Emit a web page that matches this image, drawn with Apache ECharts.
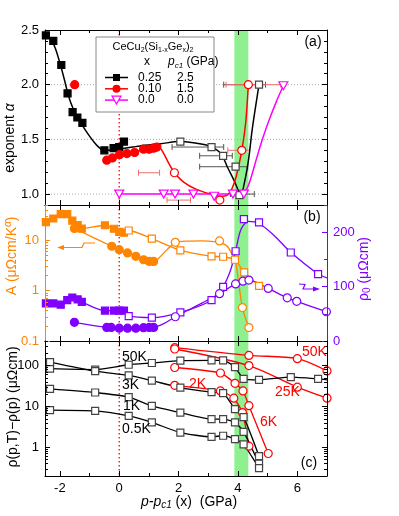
<!DOCTYPE html>
<html>
<head>
<meta charset="utf-8">
<script src="https://cdn.jsdelivr.net/npm/echarts@6/dist/echarts.min.js"></script>
<style>
  html, body { margin: 0; padding: 0; background: #fff; }
  #main { width: 399px; height: 516px; }
</style>
</head>
<body>
<div id="main"></div>
<script>
// ---------- data ----------
// x axis (p - pc1, GPa)
var xMajor = [-2, 0, 2, 4, 6];
var xMinor = [-1, 1, 3, 5];

// panel (a): exponent alpha
var aMajor = [1.0, 1.5, 2.0, 2.5];
var aMinor = [1.1, 1.2, 1.3, 1.4, 1.6, 1.7, 1.8, 1.9, 2.1, 2.2, 2.3, 2.4];
var aGuides = [1.0, 1.5, 2.0];
var aBlkFilledX = [-2.47, -2.22, -1.95, -1.74, -1.57, -1.41, -1.24, -0.50, -0.19, 0.00, 0.16];
var aBlkFilledY = [2.45, 2.40, 2.18, 1.92, 1.75, 1.70, 1.65, 1.40, 1.42, 1.43, 1.48];
var aBlkOpenX = [2.06, 3.11, 3.50, 3.92, 4.05, 4.71];
var aBlkOpenY = [1.48, 1.43, 1.35, 1.25, 0.99, 2.00];
var aBlkErrY = [1.43, 1.35, 1.25, 1.00, 2.00];
var aBlkErrLo = [1.78, 2.71, 2.71, 3.75, 3.52];
var aBlkErrHi = [3.52, 3.81, 4.33, 4.55, 4.93];
var aRedFilledX = [-1.50, -0.42, -0.23, 0.01, 0.26, 0.52, 0.82, 1.01, 1.16, 1.27];
var aRedFilledY = [2.00, 1.31, 1.33, 1.36, 1.37, 1.38, 1.41, 1.41, 1.42, 1.43];
var aRedOpenX = [1.86, 3.39, 4.13, 4.35];
var aRedOpenY = [1.195, 0.945, 1.40, 2.00];
var aRedErrY = [1.195, 0.945, 1.40, 2.00];
var aRedErrLo = [0.65, 1.61, 3.66, 3.60];
var aRedErrHi = [1.36, 2.40, 4.39, 5.44];
var aMagX = [0.00, 1.50, 1.88, 2.50, 3.20, 3.83, 4.20, 5.53];
var aMagY = [1.00, 1.00, 1.00, 1.00, 0.98, 1.00, 1.00, 1.99];
var aBlkFitX = [-2.50, -2.30, -2.15, -2.00, -1.85, -1.70, -1.55, -1.40, -1.20, -1.00, -0.80, -0.60, -0.40, 0.00, 0.70, 1.40, 2.00, 2.50, 2.90, 3.20, 3.45, 3.64, 3.86, 4.00, 4.09, 4.26, 4.37, 4.48, 4.71];
var aBlkFitY = [2.46, 2.42, 2.33, 2.20, 2.05, 1.89, 1.78, 1.70, 1.61, 1.53, 1.46, 1.41, 1.40, 1.41, 1.44, 1.46, 1.48, 1.47, 1.45, 1.42, 1.36, 1.25, 1.13, 1.04, 0.99, 1.16, 1.34, 1.59, 2.00];
var aRedFitX = [-0.45, -0.20, 0.30, 0.80, 1.20, 1.33, 1.50, 1.67, 1.86, 2.17, 2.62, 3.07, 3.40, 3.64, 3.80, 3.95, 4.13, 4.26, 4.35];
var aRedFitY = [1.31, 1.34, 1.37, 1.40, 1.42, 1.43, 1.37, 1.28, 1.195, 1.11, 1.04, 1.00, 0.98, 0.99, 1.05, 1.17, 1.40, 1.65, 2.00];
var aMagFitX = [0.00, 3.90, 4.15, 4.30, 4.43, 4.60, 4.80, 5.00, 5.30, 5.53];
var aMagFitY = [1.00, 1.00, 1.01, 1.05, 1.14, 1.30, 1.48, 1.64, 1.85, 1.99];

// panel (b): A (left, log) and rho0 (right)
var bAMajor = [0.1, 1, 10];
var bAMinor = [0.2, 0.3, 0.4, 0.5, 0.6, 0.7, 0.8, 0.9, 2, 3, 4, 5, 6, 7, 8, 9, 20, 30, 40, 50];
var bRMajor = [0, 100, 200];
var bRMinor = [50, 150, 250];
var bSqFilledX = [-2.47, -2.22, -1.97, -1.75, -1.58, -1.40, -1.26, -0.48, -0.18, 0.00, 0.16];
var bASqFilled = [22.9, 27.0, 33.0, 33.0, 24.4, 20.0, 17.0, 19.8, 16.9, 14.7, 14.1];
var bASqOpenX = [0.32, 1.10, 2.06, 3.11, 3.50, 3.90, 4.21, 4.71];
var bASqOpen = [15.6, 10.8, 6.3, 4.8, 4.7, 4.1, 2.3, 1.24];
var bACircFilledX = [-1.51, -0.25, 0.00, 0.28, 0.56, 0.82, 1.01, 1.16];
var bACircFilled = [17.1, 7.6, 6.5, 5.6, 4.8, 4.1, 3.8, 3.8];
var bACircOpenX = [1.89, 3.38, 4.15, 4.37];
var bACircOpen = [9.1, 9.7, 0.46, 0.185];
var bAFitX = [-1.51, -0.25, 0.00, 0.28, 0.56, 0.82, 1.01, 1.16, 1.33, 1.61, 1.89, 2.29, 2.80, 3.19, 3.45, 3.64, 3.81, 3.92, 4.15, 4.37];
var bAFit = [17.1, 7.6, 6.5, 5.6, 4.8, 4.1, 3.75, 3.7, 4.4, 6.5, 8.9, 9.6, 9.7, 9.4, 8.8, 7.6, 5.2, 3.8, 0.46, 0.185];
var bRSqFilled = [69, 69, 66.7, 75, 80, 76.5, 72, 56, 56, 56, 56];
var bRSqOpenX = [0.32, 1.10, 2.06, 3.11, 3.50, 3.92, 4.20, 4.71, 5.78, 6.70];
var bRSqOpen = [45.9, 42.8, 52.6, 75.2, 99.6, 165, 224, 218, 162.7, 123];
var bRSqFitX = [-2.47, -2.22, -1.97, -1.75, -1.58, -1.40, -1.26, -0.48, 0.16, 0.32, 1.10, 2.06, 3.11, 3.50, 3.75, 3.92, 4.10, 4.35, 4.71, 5.20, 5.78, 6.70, 7.00];
var bRSqFit = [69, 69, 66.7, 75, 80, 76.5, 72, 56, 56, 46, 42.8, 52.6, 75, 100, 130, 165, 205, 220, 216, 195, 163, 123, 116];
var bRCircFilledX = [-1.51, -0.42, -0.27, 0.00, 0.28, 0.56, 0.82, 1.01, 1.16];
var bRCircFilled = [34.3, 25, 25, 23.5, 23.5, 23.5, 24.5, 25, 25];
var bRCircOpenX = [1.89, 3.38, 3.92, 4.17, 4.37, 5.02, 5.66, 5.98, 6.98];
var bRCircOpen = [44.6, 87, 105, 110, 112, 96.6, 79.4, 73, 53.8];
var bRCircFitX = [-1.51, -0.42, 0.00, 0.56, 1.16, 1.50, 1.89, 2.30, 2.80, 3.38, 3.92, 4.17, 4.37, 5.02, 5.66, 5.98, 6.98, 7.00];
var bRCircFit = [34.3, 25, 23.5, 23.5, 25, 32, 44.6, 56, 70, 87, 105, 110, 112, 96.6, 79.4, 73, 53.8, 53.4];

// panel (c): rho(p,T) - rho(p), log
var cMajor = [1, 10, 100];
var cMinor = [0.2, 0.3, 0.4, 0.5, 0.6, 0.7, 0.8, 0.9, 2, 3, 4, 5, 6, 7, 8, 9, 20, 30, 40, 50, 60, 70, 80, 90, 200, 300, 400];
var cX = [-2.33, -0.81, 0.32, 1.10, 2.06, 3.11, 3.50, 3.90, 4.19, 4.71];
var c50KX = [-2.33, -0.81, 0.32, 1.10, 2.06, 3.11, 3.50, 3.90, 4.19, 4.71, 5.78, 6.70, 7.00];
var c50K = [84, 80, 105, 116, 132, 134, 134, 92, 47.6, 45, 52.5, 47.6, 45];
var c3K = [122, 73, 57.5, 43, 29, 22.4, 21.2, 8.6, 5.5, 0.61];
var c1K = [27, 22, 16.9, 10.4, 7.1, 4.9, 4.9, 4.1, 2.4, 0.40];
var c05K = [8.2, 7.8, 5.9, 4.1, 2.3, 1.82, 1.93, 1.6, 1.19, 0.31];
var cR50X = [1.87, 4.37, 6.00, 7.00];
var cR50 = [275, 178, 148, 74];
var cR25X = [1.87, 4.37, 6.00, 7.00];
var cR25 = [255, 100, 29.7, 16];
var cR6X = [1.87, 3.41, 3.90, 4.17, 4.37, 5.02];
var cR6 = [90, 66, 37, 24, 10.5, 0.71];
var cR2X = [1.87, 3.41, 3.86, 4.15, 4.37];
var cR2 = [33, 24, 16, 7.1, 1.07];

var bandX = [3.88, 4.35];

// ---------- styling ----------
var FONT = 'Liberation Sans, Arial, sans-serif';
var ORANGE = '#ff8400', PURPLE = '#8000ff', RED = '#ff0000', MAG = '#ff00ff', GREEN = '#8ef08e';
var grids = [
  { left: 45, top: 30, width: 282, height: 175 },
  { left: 45, top: 205, width: 282, height: 136 },
  { left: 45, top: 341, width: 282, height: 135 }
];

function zip(xs, ys) { return xs.map(function (x, i) { return [x, ys[i]]; }); }
function fmtNum(v) { return v < 1 ? String(+v.toFixed(1)) : String(Math.round(v)); }

var xAxes = [], yAxes = [];
function xAx(g, pos, vals, len, showLabel, showLine) {
  xAxes.push({
    gridIndex: g, type: 'value', min: -2.5, max: 7, position: pos, z: 10,
    axisLine: { show: showLine, onZero: false, lineStyle: { color: '#000', width: 1 } },
    axisTick: { show: true, inside: true, length: len, customValues: vals, lineStyle: { color: '#000', width: 1 } },
    axisLabel: { show: showLabel, customValues: vals, margin: 6, fontSize: 13, color: '#000', fontFamily: FONT },
    splitLine: { show: false }
  });
  return xAxes.length - 1;
}
function yAx(g, pos, type, min, max, vals, len, showLabel, showLine, color, fmt) {
  var ax = {
    gridIndex: g, type: type, min: min, max: max, position: pos, z: 10,
    axisLine: { show: showLine, onZero: false, lineStyle: { color: color, width: 1 } },
    axisTick: { show: true, inside: true, length: len, customValues: vals, lineStyle: { color: color, width: 1 } },
    axisLabel: { show: showLabel, customValues: vals, margin: 6, fontSize: 13, color: color, fontFamily: FONT, formatter: fmt },
    splitLine: { show: false }
  };
  if (type === 'log') ax.logBase = 10;
  yAxes.push(ax);
  return yAxes.length - 1;
}

var X = [];
for (var g = 0; g < 3; g++) {
  X[g] = xAx(g, 'bottom', xMajor, 5, g === 2, true);
  xAx(g, 'bottom', xMinor, 3, false, false);
  xAx(g, 'top', xMajor, 5, false, true);
  xAx(g, 'top', xMinor, 3, false, false);
}
var fmtA = function (v) { return (+v).toFixed(1); };
var YA = yAx(0, 'left', 'value', 0.9, 2.5, aMajor, 5, true, true, '#000', fmtA);
yAx(0, 'left', 'value', 0.9, 2.5, aMinor, 3, false, false, '#000');
yAx(0, 'right', 'value', 0.9, 2.5, aMajor, 5, false, true, '#000');
yAx(0, 'right', 'value', 0.9, 2.5, aMinor, 3, false, false, '#000');
var YB = yAx(1, 'left', 'log', 0.1, 50, bAMajor, 5, true, true, ORANGE, fmtNum);
yAx(1, 'left', 'log', 0.1, 50, bAMinor, 3, false, false, ORANGE);
var YR = yAx(1, 'right', 'value', 0, 250, bRMajor, 5, true, true, PURPLE, fmtNum);
yAx(1, 'right', 'value', 0, 250, bRMinor, 3, false, false, PURPLE);
var YC = yAx(2, 'left', 'log', 0.2, 400, cMajor, 5, true, true, '#000', fmtNum);
yAx(2, 'left', 'log', 0.2, 400, cMinor, 3, false, false, '#000');
yAx(2, 'right', 'log', 0.2, 400, cMajor, 5, false, true, '#000');
yAx(2, 'right', 'log', 0.2, 400, cMinor, 3, false, false, '#000');

var series = [];
function fit(g, yi, xs, ys, color, w, smooth) {
  series.push({
    type: 'line', xAxisIndex: X[g], yAxisIndex: yi, data: zip(xs, ys), showSymbol: false,
    smooth: smooth, lineStyle: { color: color, width: w }, z: 4, silent: true
  });
}
function marks(g, yi, xs, ys, symbol, size, fill, stroke) {
  series.push({
    type: 'scatter', xAxisIndex: X[g], yAxisIndex: yi, data: zip(xs, ys),
    symbol: symbol, symbolSize: size,
    itemStyle: { color: fill, borderColor: stroke, borderWidth: 1.2, opacity: 1 }, z: 5, silent: true
  });
}
function linked(g, yi, xs, ys, color, w, smooth) {
  series.push({
    type: 'line', xAxisIndex: X[g], yAxisIndex: yi, data: zip(xs, ys), smooth: smooth,
    showSymbol: false, lineStyle: { color: color, width: w }, z: 4, silent: true
  });
}
function errBars(g, yi, ys, los, his, color) {
  series.push({
    type: 'custom', xAxisIndex: X[g], yAxisIndex: yi, z: 3, silent: true,
    data: ys.map(function (y, i) { return [los[i], y, his[i]]; }),
    encode: { x: [0, 2], y: 1 },
    renderItem: function (params, api) {
      var p1 = api.coord([api.value(0), api.value(1)]);
      var p2 = api.coord([api.value(2), api.value(1)]);
      var st = { stroke: color, lineWidth: 1 };
      return { type: 'group', children: [
        { type: 'line', shape: { x1: p1[0], y1: p1[1], x2: p2[0], y2: p2[1] }, style: st },
        { type: 'line', shape: { x1: p1[0], y1: p1[1] - 3, x2: p1[0], y2: p1[1] + 3 }, style: st },
        { type: 'line', shape: { x1: p2[0], y1: p2[1] - 3, x2: p2[0], y2: p2[1] + 3 }, style: st }
      ] };
    }
  });
}
function band(g, yi, yref) {
  series.push({
    type: 'custom', xAxisIndex: X[g], yAxisIndex: yi, z: 1, silent: true,
    data: [[bandX[0], bandX[1], yref]], encode: { x: [0, 1], y: 2 },
    renderItem: function (params, api) {
      var cs = params.coordSys;
      var p0 = api.coord([api.value(0), api.value(2)]);
      var p1 = api.coord([api.value(1), api.value(2)]);
      return { type: 'rect', shape: { x: p0[0], y: cs.y, width: p1[0] - p0[0], height: cs.height }, style: { fill: GREEN } };
    }
  });
  // red dotted line at p = pc1
  series.push({
    type: 'custom', xAxisIndex: X[g], yAxisIndex: yi, z: 2, silent: true,
    data: [[0, yref]], encode: { x: 0, y: 1 },
    renderItem: function (params, api) {
      var cs = params.coordSys;
      var p = api.coord([api.value(0), api.value(1)]);
      return { type: 'line', shape: { x1: p[0], y1: cs.y, x2: p[0], y2: cs.y + cs.height },
        style: { stroke: RED, lineWidth: 1.3, lineDash: [1.5, 2.5] } };
    }
  });
}

var OPEN_TRI = 'path://M0,0 L10,0 L5,9 Z';

// panel (a)
band(0, YA, 1.0);
series.push({
  type: 'custom', xAxisIndex: X[0], yAxisIndex: YA, z: 2, silent: true,
  data: aGuides.map(function (y) { return [-2.5, 7, y]; }), encode: { x: [0, 1], y: 2 },
  renderItem: function (params, api) {
    var p0 = api.coord([api.value(0), api.value(2)]);
    var p1 = api.coord([api.value(1), api.value(2)]);
    return { type: 'line', shape: { x1: p0[0], y1: p0[1], x2: p1[0], y2: p1[1] },
      style: { stroke: '#aaa', lineWidth: 1, lineDash: [1, 2] } };
  }
});
errBars(0, YA, aBlkErrY, aBlkErrLo, aBlkErrHi, '#555');
errBars(0, YA, aRedErrY, aRedErrLo, aRedErrHi, '#f07070');
fit(0, YA, aBlkFitX, aBlkFitY, '#000', 1.5, 0.3);
fit(0, YA, aRedFitX, aRedFitY, RED, 1.5, 0.3);
fit(0, YA, aMagFitX, aMagFitY, MAG, 1.5, 0.3);
marks(0, YA, aBlkFilledX, aBlkFilledY, 'rect', 7, '#000', '#000');
marks(0, YA, aBlkOpenX, aBlkOpenY, 'rect', 7, '#fff', '#444');
marks(0, YA, aRedFilledX, aRedFilledY, 'circle', 8, RED, RED);
marks(0, YA, aRedOpenX, aRedOpenY, 'circle', 8, '#fff', RED);
marks(0, YA, aMagX, aMagY, OPEN_TRI, [9, 8], '#fff', MAG);

// panel (b)
band(1, YB, 1);
linked(1, YB, bSqFilledX.concat(bASqOpenX), bASqFilled.concat(bASqOpen), ORANGE, 1.3, 0.2);
fit(1, YB, bAFitX, bAFit, ORANGE, 1.3, 0.3);
marks(1, YB, bSqFilledX, bASqFilled, 'rect', 7, ORANGE, ORANGE);
marks(1, YB, bASqOpenX, bASqOpen, 'rect', 7, '#fff', ORANGE);
marks(1, YB, bACircFilledX, bACircFilled, 'circle', 8, ORANGE, ORANGE);
marks(1, YB, bACircOpenX, bACircOpen, 'circle', 8, '#fff', ORANGE);
fit(1, YR, bRSqFitX, bRSqFit, PURPLE, 1.3, 0.3);
fit(1, YR, bRCircFitX, bRCircFit, PURPLE, 1.3, 0.3);
marks(1, YR, bSqFilledX, bRSqFilled, 'rect', 7, PURPLE, PURPLE);
marks(1, YR, bRSqOpenX, bRSqOpen, 'rect', 7, '#fff', PURPLE);
marks(1, YR, bRCircFilledX, bRCircFilled, 'circle', 8, PURPLE, PURPLE);
marks(1, YR, bRCircOpenX, bRCircOpen, 'circle', 8, '#fff', PURPLE);

// panel (c)
band(2, YC, 1);
fit(2, YC, cR50X, cR50, RED, 1.3, 0.3);
fit(2, YC, cR25X, cR25, RED, 1.3, 0.3);
fit(2, YC, cR6X, cR6, RED, 1.3, 0.2);
fit(2, YC, cR2X, cR2, RED, 1.3, 0.2);
marks(2, YC, cR50X, cR50, 'circle', 8, '#fff', RED);
marks(2, YC, cR25X, cR25, 'circle', 8, '#fff', RED);
marks(2, YC, cR6X, cR6, 'circle', 8, '#fff', RED);
marks(2, YC, cR2X, cR2, 'circle', 8, '#fff', RED);
fit(2, YC, c50KX, c50K, '#000', 1.3, 0.2);
fit(2, YC, cX, c3K, '#000', 1.3, 0.2);
fit(2, YC, cX, c1K, '#000', 1.3, 0.2);
fit(2, YC, cX, c05K, '#000', 1.3, 0.2);
marks(2, YC, c50KX.slice(0, 12), c50K.slice(0, 12), 'rect', 7, '#fff', '#444');
marks(2, YC, cX, c3K, 'rect', 7, '#fff', '#444');
marks(2, YC, cX, c1K, 'rect', 7, '#fff', '#444');
marks(2, YC, cX, c05K, 'rect', 7, '#fff', '#444');

// ---------- texts, legend, arrows ----------
function txt(x, y, text, size, color, align, rot, rich) {
  var t = { type: 'text', x: x, y: y, z: 20, silent: true,
    style: { text: text, fill: color, fontSize: size, fontFamily: FONT, align: align || 'left', verticalAlign: 'middle' } };
  if (rot) t.rotation = rot;
  if (rich) t.style.rich = rich;
  return t;
}
function richSet(size, color) {
  return {
    n: { fontSize: size, fontFamily: FONT, fill: color, lineHeight: size + 3 },
    i: { fontSize: size, fontFamily: FONT, fill: color, fontStyle: 'italic', lineHeight: size + 3 },
    sub: { fontSize: size - 4, fontFamily: FONT, fill: color, verticalAlign: 'bottom', lineHeight: size - 4 },
    isub: { fontSize: size - 4, fontFamily: FONT, fill: color, fontStyle: 'italic', verticalAlign: 'bottom', lineHeight: size - 4 },
    sup: { fontSize: size - 4, fontFamily: FONT, fill: color, fontStyle: 'italic', verticalAlign: 'top', lineHeight: size - 4 }
  };
}
var R = Math.PI / 2;
var graphics = [
  txt(10, 138, '{n|exponent }{i|α}', 14, '#000', 'center', R, richSet(14, '#000')),
  txt(12, 256, '{n|A (μΩcm/K}{sup|α}{n|)}', 14, ORANGE, 'center', R, richSet(14, ORANGE)),
  txt(13, 407, '{n|ρ(p,T)−ρ(p) (μΩcm)}', 14, '#000', 'center', R, richSet(14, '#000')),
  txt(364, 269, '{n|ρ}{sub|0}{n| (μΩcm)}', 14, PURPLE, 'center', R, richSet(14, PURPLE)),
  txt(189, 502, '{i|p-p}{isub|c1}{n| (x)  (GPa)}', 14, '#000', 'center', 0, richSet(14, '#000')),
  txt(313, 42, '(a)', 14, '#000', 'center'),
  txt(312, 217, '(b)', 14, '#000', 'center'),
  txt(309, 463, '(c)', 14, '#000', 'center'),
  txt(122, 357, '50K', 14, '#000'),
  txt(122, 385, '3K', 14, '#000'),
  txt(123, 406, '1K', 14, '#000'),
  txt(122, 429, '0.5K', 14, '#000'),
  txt(189, 384, '2K', 14, RED),
  txt(260, 422, '6K', 14, RED),
  txt(275, 392, '25K', 14, RED),
  txt(302, 352, '50K', 14, RED),
  // orange arrow (A -> left axis)
  { type: 'polyline', z: 20, silent: true, shape: { points: [[95, 243], [84, 243], [82, 247.5], [62, 247.5]] }, style: { stroke: ORANGE, lineWidth: 1.2, fill: null } },
  { type: 'polygon', z: 20, silent: true, shape: { points: [[57, 247.5], [64, 245], [64, 250]] }, style: { fill: ORANGE } },
  // purple arrow (rho0 -> right axis)
  { type: 'polyline', z: 20, silent: true, shape: { points: [[299, 284], [305, 284.5], [303, 289], [315, 289]] }, style: { stroke: PURPLE, lineWidth: 1.2, fill: null } },
  { type: 'polygon', z: 20, silent: true, shape: { points: [[320, 289], [313, 286.5], [313, 291.5]] }, style: { fill: PURPLE } }
];

// legend box
var legendRows = [['0.25', '2.5'], ['0.10', '1.5'], ['0.0', '0.0']];
var legendColors = ['#000', RED, MAG];
graphics.push({ type: 'rect', z: 15, silent: true, shape: { x: 96, y: 37, width: 118, height: 75 }, style: { fill: '#fff', stroke: '#888', lineWidth: 1 } });
graphics.push(txt(153, 47, '{n|CeCu}{sub|2}{n|(Si}{sub|1-x}{n|Ge}{sub|x}{n|)}{sub|2}', 11, '#000', 'center', 0, richSet(11, '#000')));
graphics.push(txt(147, 62, 'x', 12, '#000', 'center'));
graphics.push(txt(168, 62, '{i|p}{isub|c1}{n| (GPa)}', 12, '#000', 'left', 0, richSet(12, '#000')));
legendRows.forEach(function (row, i) {
  var y = 77.5 + i * 11.3, c = legendColors[i];
  graphics.push({ type: 'line', z: 16, silent: true, shape: { x1: 105, y1: y, x2: 128, y2: y }, style: { stroke: c, lineWidth: 1.5 } });
  if (i === 0) graphics.push({ type: 'rect', z: 17, silent: true, shape: { x: 113, y: y - 3.5, width: 7, height: 7 }, style: { fill: c } });
  if (i === 1) graphics.push({ type: 'circle', z: 17, silent: true, shape: { cx: 116.5, cy: y, r: 4 }, style: { fill: c } });
  if (i === 2) graphics.push({ type: 'polygon', z: 17, silent: true, shape: { points: [[112, y - 4], [121, y - 4], [116.5, y + 4]] }, style: { fill: '#fff', stroke: c, lineWidth: 1.2 } });
  graphics.push(txt(138, y, row[0], 12, '#000'));
  graphics.push(txt(177, y, row[1], 12, '#000'));
});

var chart = echarts.init(document.getElementById('main'), null, { renderer: 'canvas' });
chart.setOption({
  animation: false,
  backgroundColor: '#fff',
  textStyle: { fontFamily: FONT },
  grid: grids,
  xAxis: xAxes,
  yAxis: yAxes,
  series: series,
  graphic: graphics
});
</script>
</body>
</html>
